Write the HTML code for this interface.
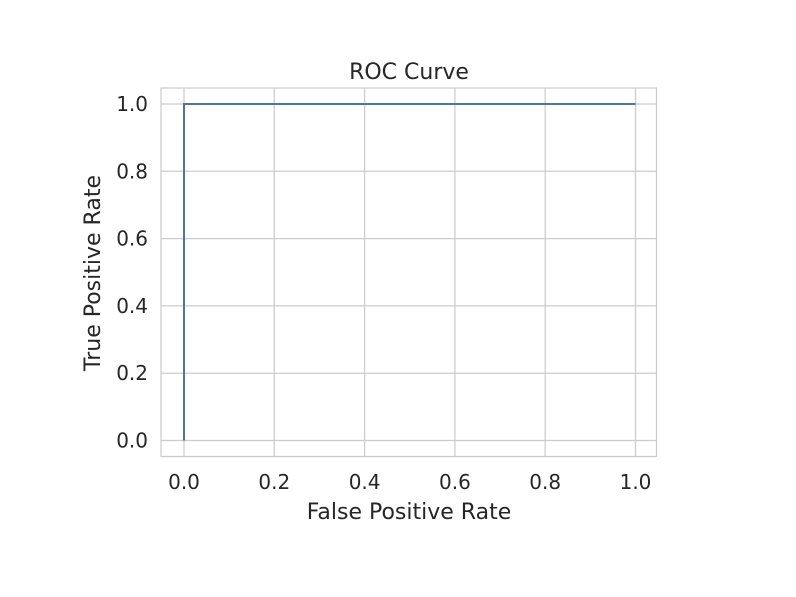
<!DOCTYPE html>
<html><head><meta charset="utf-8"><style>
body{margin:0;background:#fff;}
svg text{font-family:"DejaVu Sans","Liberation Sans",sans-serif;fill:#262626;}
</style></head><body>
<svg id="chart" width="796" height="592" xmlns="http://www.w3.org/2000/svg">
<rect x="0" y="0" width="796" height="592" fill="#fff"/>
<g id="grid"></g>
<rect x="161" y="88" width="495.5" height="368.5" fill="none" stroke="#cccccc" stroke-width="1.25"/>
<g id="ticks"></g>
<polyline id="roc" fill="none" stroke="#4c72b0" stroke-width="2"/>
<text x="409" y="79" font-size="22" text-anchor="middle">ROC Curve</text>
<text x="409" y="519" font-size="22" text-anchor="middle">False Positive Rate</text>
<text transform="translate(100,273) rotate(-90)" font-size="22" text-anchor="middle">True Positive Rate</text>
</svg>
<script>
const fpr=[0,0,1];
const tpr=[0,1,1];
const xTicks=[0,0.2,0.4,0.6,0.8,1.0];
const yTicks=[0,0.2,0.4,0.6,0.8,1.0];
const NS="http://www.w3.org/2000/svg";
function xs(v){return 184+v*(635.5-184);}
function ys(v){return 440.5-v*(440.5-104);}
const grid=document.getElementById('grid'),ticks=document.getElementById('ticks');
xTicks.forEach(t=>{
 const l=document.createElementNS(NS,'line');
 l.setAttribute('x1',xs(t));l.setAttribute('x2',xs(t));l.setAttribute('y1',88);l.setAttribute('y2',456.5);
 l.setAttribute('stroke','#cccccc');l.setAttribute('stroke-width','1.25');
 
 
 grid.appendChild(l);
 const tx=document.createElementNS(NS,'text');
 tx.setAttribute('x',xs(t));tx.setAttribute('y',489);tx.setAttribute('font-size','20');tx.setAttribute('text-anchor','middle');
 tx.textContent=t.toFixed(1);
 
 
 ticks.appendChild(tx);
});
yTicks.forEach(t=>{
 const l=document.createElementNS(NS,'line');
 l.setAttribute('y1',ys(t));l.setAttribute('y2',ys(t));l.setAttribute('x1',161);l.setAttribute('x2',656.5);
 l.setAttribute('stroke','#cccccc');l.setAttribute('stroke-width','1.25');
 
 
 grid.appendChild(l);
 const tx=document.createElementNS(NS,'text');
 tx.setAttribute('x',148);tx.setAttribute('y',ys(t)+7);tx.setAttribute('font-size','20');tx.setAttribute('text-anchor','end');
 tx.textContent=t.toFixed(1);
 
 
 ticks.appendChild(tx);
});
document.getElementById('roc').setAttribute('points',fpr.map((f,i)=>xs(f)+','+ys(tpr[i])).join(' '));
</script>
</body></html>
